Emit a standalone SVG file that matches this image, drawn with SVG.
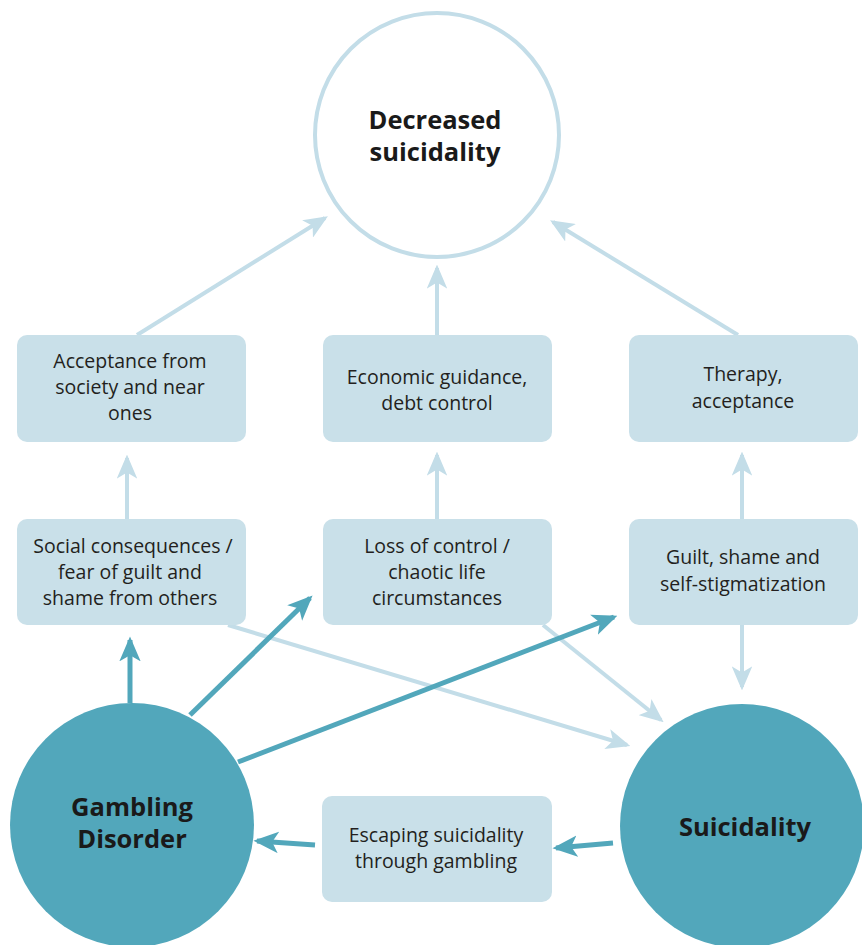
<svg xmlns="http://www.w3.org/2000/svg" width="862" height="945" viewBox="0 0 862 945">
  <style>
    .box { fill: #c9e0e9; }
    .lbl { font-family: "Open Sans", "Noto Sans", sans-serif; font-size: 19.5px; fill: #231f20; text-anchor: middle; }
    .big { font-family: "Open Sans", "Noto Sans", sans-serif; font-size: 25.5px; font-weight: bold; fill: #1a1a1a; text-anchor: middle; }
    .soft { stroke: #c3dde8; stroke-width: 4; fill: none; marker-end: url(#headSoft); }
    .strong { stroke: #52a7bb; stroke-width: 5; fill: none; marker-end: url(#headStrong); }
  </style>
  <defs>
    <marker id="headSoft" viewBox="0 0 14 12" refX="12" refY="6" markerWidth="6" markerHeight="5.2" orient="auto" markerUnits="strokeWidth">
      <path d="M0,0 L14,6 L0,12 L3.5,6 z" fill="#c3dde8"/>
    </marker>
    <marker id="headStrong" viewBox="0 0 14 12" refX="12" refY="6" markerWidth="5" markerHeight="4.4" orient="auto" markerUnits="strokeWidth">
      <path d="M0,0 L14,6 L0,12 L3.5,6 z" fill="#52a7bb"/>
    </marker>
  </defs>

  <!-- connectors -->
  <g id="connectors">
    <line class="soft" x1="137" y1="335" x2="325" y2="218"/>
    <line class="soft" x1="437" y1="335" x2="437" y2="268"/>
    <line class="soft" x1="738" y1="335" x2="553" y2="222"/>
    <line class="soft" x1="127" y1="519" x2="127" y2="458"/>
    <line class="soft" x1="437" y1="519" x2="437" y2="455"/>
    <line class="soft" x1="742" y1="519" x2="742" y2="455"/>
    <line class="soft" x1="742" y1="625" x2="742" y2="687"/>
    <line class="soft" x1="228" y1="625" x2="627" y2="745"/>
    <line class="soft" x1="543" y1="625" x2="661" y2="720"/>
    <line class="strong" x1="130" y1="703" x2="130" y2="640"/>
    <line class="strong" x1="190" y1="715" x2="310" y2="598"/>
    <line class="strong" x1="238" y1="762" x2="614" y2="617"/>
    <line class="strong" x1="613" y1="843" x2="556" y2="848"/>
    <line class="strong" x1="315" y1="845" x2="257" y2="841"/>
  </g>

  <g id="decreased">
    <circle cx="437" cy="135" r="122" fill="#ffffff" stroke="#c3dde8" stroke-width="4"/>
    <text class="big" x="435" y="129">Decreased</text>
    <text class="big" x="435" y="161">suicidality</text>
  </g>

  <g id="acceptance-society">
    <rect class="box" x="17" y="335" width="229" height="107" rx="10"/>
    <text class="lbl" x="130" y="368">Acceptance from</text>
    <text class="lbl" x="130" y="394">society and near</text>
    <text class="lbl" x="130" y="420">ones</text>
  </g>

  <g id="economic-guidance">
    <rect class="box" x="323" y="335" width="229" height="107" rx="10"/>
    <text class="lbl" x="437" y="384">Economic guidance,</text>
    <text class="lbl" x="437" y="410">debt control</text>
  </g>

  <g id="therapy">
    <rect class="box" x="629" y="335" width="229" height="107" rx="10"/>
    <text class="lbl" x="743" y="381">Therapy,</text>
    <text class="lbl" x="743" y="408">acceptance</text>
  </g>

  <g id="social-consequences">
    <rect class="box" x="17" y="519" width="229" height="106" rx="10"/>
    <text class="lbl" x="133" y="553">Social consequences /</text>
    <text class="lbl" x="130" y="579">fear of guilt and</text>
    <text class="lbl" x="130" y="605">shame from others</text>
  </g>

  <g id="loss-of-control">
    <rect class="box" x="323" y="519" width="229" height="106" rx="10"/>
    <text class="lbl" x="437" y="553">Loss of control /</text>
    <text class="lbl" x="437" y="579">chaotic life</text>
    <text class="lbl" x="437" y="605">circumstances</text>
  </g>

  <g id="guilt-shame">
    <rect class="box" x="629" y="519" width="229" height="106" rx="10"/>
    <text class="lbl" x="743" y="564">Guilt, shame and</text>
    <text class="lbl" x="743" y="591">self-stigmatization</text>
  </g>

  <g id="escaping">
    <rect class="box" x="322" y="796" width="230" height="106" rx="10"/>
    <text class="lbl" x="436" y="842">Escaping suicidality</text>
    <text class="lbl" x="436" y="868">through gambling</text>
  </g>

  <g id="gambling-disorder">
    <circle cx="132" cy="825" r="122" fill="#52a7bb"/>
    <text class="big" x="132" y="816">Gambling</text>
    <text class="big" x="132" y="848">Disorder</text>
  </g>

  <g id="suicidality">
    <circle cx="742" cy="826" r="122" fill="#52a7bb"/>
    <text class="big" x="745" y="836">Suicidality</text>
  </g>
</svg>
